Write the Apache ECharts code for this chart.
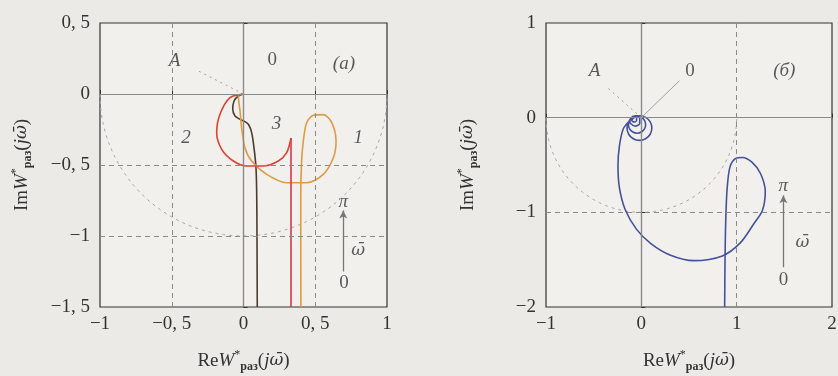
<!DOCTYPE html>
<html>
<head>
<meta charset="utf-8">
<script src="https://cdn.jsdelivr.net/npm/echarts@6/dist/echarts.min.js"></script>
<style>
  html, body { margin: 0; padding: 0; background: #ebeae6; }
  #chart-container { width: 838px; height: 376px; }
</style>
</head>
<body>
<div id="chart-container"></div>
<script>
var dom = document.getElementById('chart-container');
var myChart = echarts.init(dom, null, { renderer: 'canvas' });

// ---- data ----
// (a) curve 2, red: vertical stem then the loop back to the origin
var redStem = [[0.331, -1.5], [0.331, -0.31]];
var redArc = [[0.331, -0.31], [0.301, -0.413], [0.243, -0.472], [0.138, -0.507], [0.022, -0.507],
  [-0.071, -0.472], [-0.152, -0.39], [-0.187, -0.272], [-0.164, -0.143], [-0.094, -0.026], [0, 0]];
// (a) curve 1, orange
var orangeCurve = [[0.4, -1.5], [0.399, -1.0], [0.399, -0.706], [0.405, -0.472], [0.417, -0.331],
  [0.44, -0.202], [0.487, -0.15], [0.556, -0.145], [0.615, -0.202], [0.645, -0.331], [0.626, -0.449],
  [0.556, -0.566], [0.44, -0.625], [0.301, -0.625], [0.162, -0.566], [0.057, -0.472], [0.01, -0.378],
  [-0.013, -0.237], [-0.024, -0.12], [-0.036, -0.014], [0, 0]];
// (a) curve 3, dark
var darkCurve = [[0.096, -1.5], [0.094, -1.0], [0.092, -0.706], [0.087, -0.519], [0.073, -0.378],
  [0.057, -0.272], [0.035, -0.215], [0.01, -0.195], [-0.024, -0.178], [-0.059, -0.155], [-0.075, -0.108],
  [-0.066, -0.049], [-0.036, -0.014], [0, 0]];
// (б) blue curve with the spiral at the origin
var blueCurve = [[0.874, -2.0], [0.878, -1.5], [0.885, -1.1], [0.9, -0.75], [0.93, -0.52], [0.99, -0.43],
  [1.06, -0.42], [1.16, -0.47], [1.25, -0.59], [1.3, -0.78], [1.27, -0.98], [1.18, -1.12], [1.04, -1.32],
  [0.85, -1.46], [0.55, -1.51], [0.3, -1.45], [0.1, -1.33], [-0.05, -1.18], [-0.17, -0.97], [-0.23, -0.74],
  [-0.245, -0.5], [-0.23, -0.3], [-0.19, -0.12], [-0.13, -0.04],
  [-0.085, 0.003], [-0.02, 0.02], [0.045, 0.003], [0.093, -0.045], [0.11, -0.11], [0.093, -0.175],
  [0.045, -0.223], [-0.02, -0.24], [-0.085, -0.223], [-0.133, -0.175], [-0.15, -0.11],
  [-0.123, -0.029], [-0.09, 0.004], [-0.045, 0.016], [0, 0.004], [0.033, -0.029], [0.045, -0.074],
  [0.033, -0.119], [0, -0.152], [-0.045, -0.164], [-0.09, -0.152], [-0.123, -0.119], [-0.135, -0.074],
  [-0.113, -0.008], [-0.065, 0.02], [-0.017, -0.008], [-0.017, -0.062], [-0.065, -0.09], [-0.113, -0.062],
  [-0.12, -0.035], [-0.1, 0.0], [-0.075, 0.015], [-0.05, 0], [-0.05, -0.03], [-0.075, -0.045],
  [-0.1, -0.03], [-0.09, -0.01], [-0.075, 0]];

var ticksXa = [-1, -0.5, 0, 0.5, 1];
var ticksYa = [-1.5, -1, -0.5, 0, 0.5];
var ticksXb = [-1, 0, 1, 2];
var ticksYb = [-2, -1, 0, 1];

// text annotations [x, y, text, italic]
var labelsA = [[-0.48, 0.23, 'A', true], [0.2, 0.24, '0', false], [0.7, 0.21, '(a)', true],
  [-0.4, -0.31, '2', true], [0.23, -0.21, '3', true], [0.8, -0.31, '1', true],
  [0.695, -0.76, 'π', true], [0.8, -1.1, 'ω\u0304', true], [0.7, -1.33, '0', false]];
var labelsB = [[-0.49, 0.49, 'A', true], [0.51, 0.49, '0', false], [1.5, 0.49, '(б)', true],
  [1.49, -0.72, 'π', true], [1.69, -1.32, 'ω\u0304', true], [1.49, -1.72, '0', false]];

// unit circle (lower half) used as a reference in both panels
var unitCircle = [];
for (var k = 0; k <= 90; k++) {
  var t = Math.PI + k * Math.PI / 90;
  unitCircle.push([Math.cos(t), Math.sin(t)]);
}

var FONT = 'Liberation Serif';
var OMEGA_FONT = 'DejaVu Serif';
var GRID = '#8a8a8a';

function fmt(v) {
  var s = String(Math.abs(v)).replace('.', ', ');
  return (v < 0 ? '\u2212' : '') + s;
}

var nameRich = {
  r: { fontFamily: FONT, fontSize: 19, color: '#333', lineHeight: 24 },
  i: { fontFamily: FONT, fontSize: 19, fontStyle: 'italic', color: '#333', lineHeight: 24 },
  w: { fontFamily: OMEGA_FONT, fontSize: 17, fontStyle: 'italic', color: '#333', lineHeight: 24 },
  sup: { fontFamily: FONT, fontSize: 12, color: '#333', verticalAlign: 'top', lineHeight: 12 },
  sub: { fontFamily: FONT, fontSize: 12, fontWeight: 'bold', color: '#333', verticalAlign: 'bottom', lineHeight: 12 }
};
var reName = '{r|Re}{i|W}{sup|*}{sub|раз}{r|(}{i|j}{w|ω\u0304}{r|)}';
var imName = '{r|Im}{i|W}{sup|*}{sub|раз}{r|(}{i|j}{w|ω\u0304}{r|)}';

function xAxis(idx, min, max, step) {
  return {
    type: 'value', gridIndex: idx, min: min, max: max, interval: step,
    name: reName, nameLocation: 'middle', nameGap: 42,
    nameTextStyle: { rich: nameRich },
    axisLine: { show: true, lineStyle: { color: '#333', width: 1.2 } },
    axisTick: { inside: true, length: 4, lineStyle: { color: '#333' } },
    axisLabel: { formatter: fmt, fontFamily: FONT, fontSize: 19, color: '#333', margin: 8 },
    splitLine: { show: false }
  };
}
function yAxis(idx, min, max, step, gap) {
  return {
    type: 'value', gridIndex: idx, min: min, max: max, interval: step,
    name: imName, nameLocation: 'middle', nameGap: gap, nameRotate: 90,
    nameTextStyle: { rich: nameRich },
    axisLine: { show: true, lineStyle: { color: '#333', width: 1.2 } },
    axisTick: { inside: true, length: 4, lineStyle: { color: '#333' } },
    axisLabel: { formatter: fmt, fontFamily: FONT, fontSize: 19, color: '#333', margin: 10 },
    splitLine: { show: false }
  };
}

function curve(idx, data, color, smooth) {
  return {
    type: 'line', xAxisIndex: idx, yAxisIndex: idx, data: data,
    showSymbol: false, smooth: smooth, clip: true, silent: true,
    lineStyle: { color: color, width: 1.6 }
  };
}

function vline(x, dashed) {
  return { xAxis: x, lineStyle: { color: GRID, width: 1, type: dashed ? [5, 4] : 'solid' } };
}
function hline(y, dashed) {
  return { yAxis: y, lineStyle: { color: GRID, width: 1, type: dashed ? [5, 4] : 'solid' } };
}
function seg(a, b, type) {
  return [{ coord: a, lineStyle: { color: '#a0a0a0', width: 1, type: type } }, { coord: b }];
}

function refSeries(idx, lines) {
  return {
    type: 'line', xAxisIndex: idx, yAxisIndex: idx, data: unitCircle,
    showSymbol: false, silent: true, clip: true,
    lineStyle: { color: '#a8a8a8', width: 1, type: [3, 4] },
    markLine: { silent: true, symbol: 'none', label: { show: false }, animation: false, data: lines }
  };
}

function arrowSeries(idx, from, to) {
  return {
    type: 'line', xAxisIndex: idx, yAxisIndex: idx, data: [], silent: true,
    markLine: {
      silent: true, symbol: ['none', 'arrow'], symbolSize: [6, 8], label: { show: false }, animation: false,
      lineStyle: { color: '#777', width: 1.3, type: 'solid' },
      data: [[{ coord: from }, { coord: to }]]
    }
  };
}

function labelSeries(idx, items) {
  return {
    type: 'scatter', xAxisIndex: idx, yAxisIndex: idx, symbolSize: 0, silent: true,
    data: items.map(function (d) {
      var isOmega = d[2].charAt(0) === 'ω';
      return {
        value: [d[0], d[1]],
        label: {
          show: true, position: 'inside', formatter: d[2],
          fontFamily: isOmega ? OMEGA_FONT : FONT, fontSize: isOmega ? 17 : 19,
          fontStyle: d[3] ? 'italic' : 'normal', color: '#333'
        }
      };
    })
  };
}

option = {
  backgroundColor: '#ebeae6',
  animation: false,
  grid: [
    { left: 100, top: 23, width: 287, height: 284, show: true, borderColor: '#333', borderWidth: 1.2,
      backgroundColor: '#f1f0ed', outerBoundsMode: 'none', containLabel: false },
    { left: 546, top: 23, width: 286, height: 284, show: true, borderColor: '#333', borderWidth: 1.2,
      backgroundColor: '#f1f0ed', outerBoundsMode: 'none', containLabel: false }
  ],
  xAxis: [xAxis(0, ticksXa[0], ticksXa[ticksXa.length - 1], 0.5), xAxis(1, ticksXb[0], ticksXb[ticksXb.length - 1], 1)],
  yAxis: [yAxis(0, ticksYa[0], ticksYa[ticksYa.length - 1], 0.5, 66), yAxis(1, ticksYb[0], ticksYb[ticksYb.length - 1], 1, 66)],
  series: [
    refSeries(0, [vline(-0.5, true), vline(0, false), vline(0.5, true), hline(-1, true), hline(-0.5, true), hline(0, false),
      seg([0, 0], [-0.33, 0.17], [2, 4])]),
    refSeries(1, [vline(0, false), vline(1, true), hline(-1, true), hline(0, false),
      seg([0, 0], [-0.37, 0.33], [2, 4]), seg([0, 0], [0.4, 0.39], 'solid')]),
    arrowSeries(0, [0.695, -1.25], [0.695, -0.82]),
    arrowSeries(1, [1.49, -1.58], [1.49, -0.82]),
    curve(0, darkCurve, '#4b3b30', 0.3),
    curve(0, orangeCurve, '#e09a40', 0.3),
    curve(0, redStem, '#d8384a', false),
    curve(0, redArc, '#d9432f', 0.3),
    curve(1, blueCurve, '#47519a', 0.3),
    labelSeries(0, labelsA),
    labelSeries(1, labelsB)
  ]
};

myChart.setOption(option);
window.addEventListener('resize', myChart.resize);
</script>
</body>
</html>
